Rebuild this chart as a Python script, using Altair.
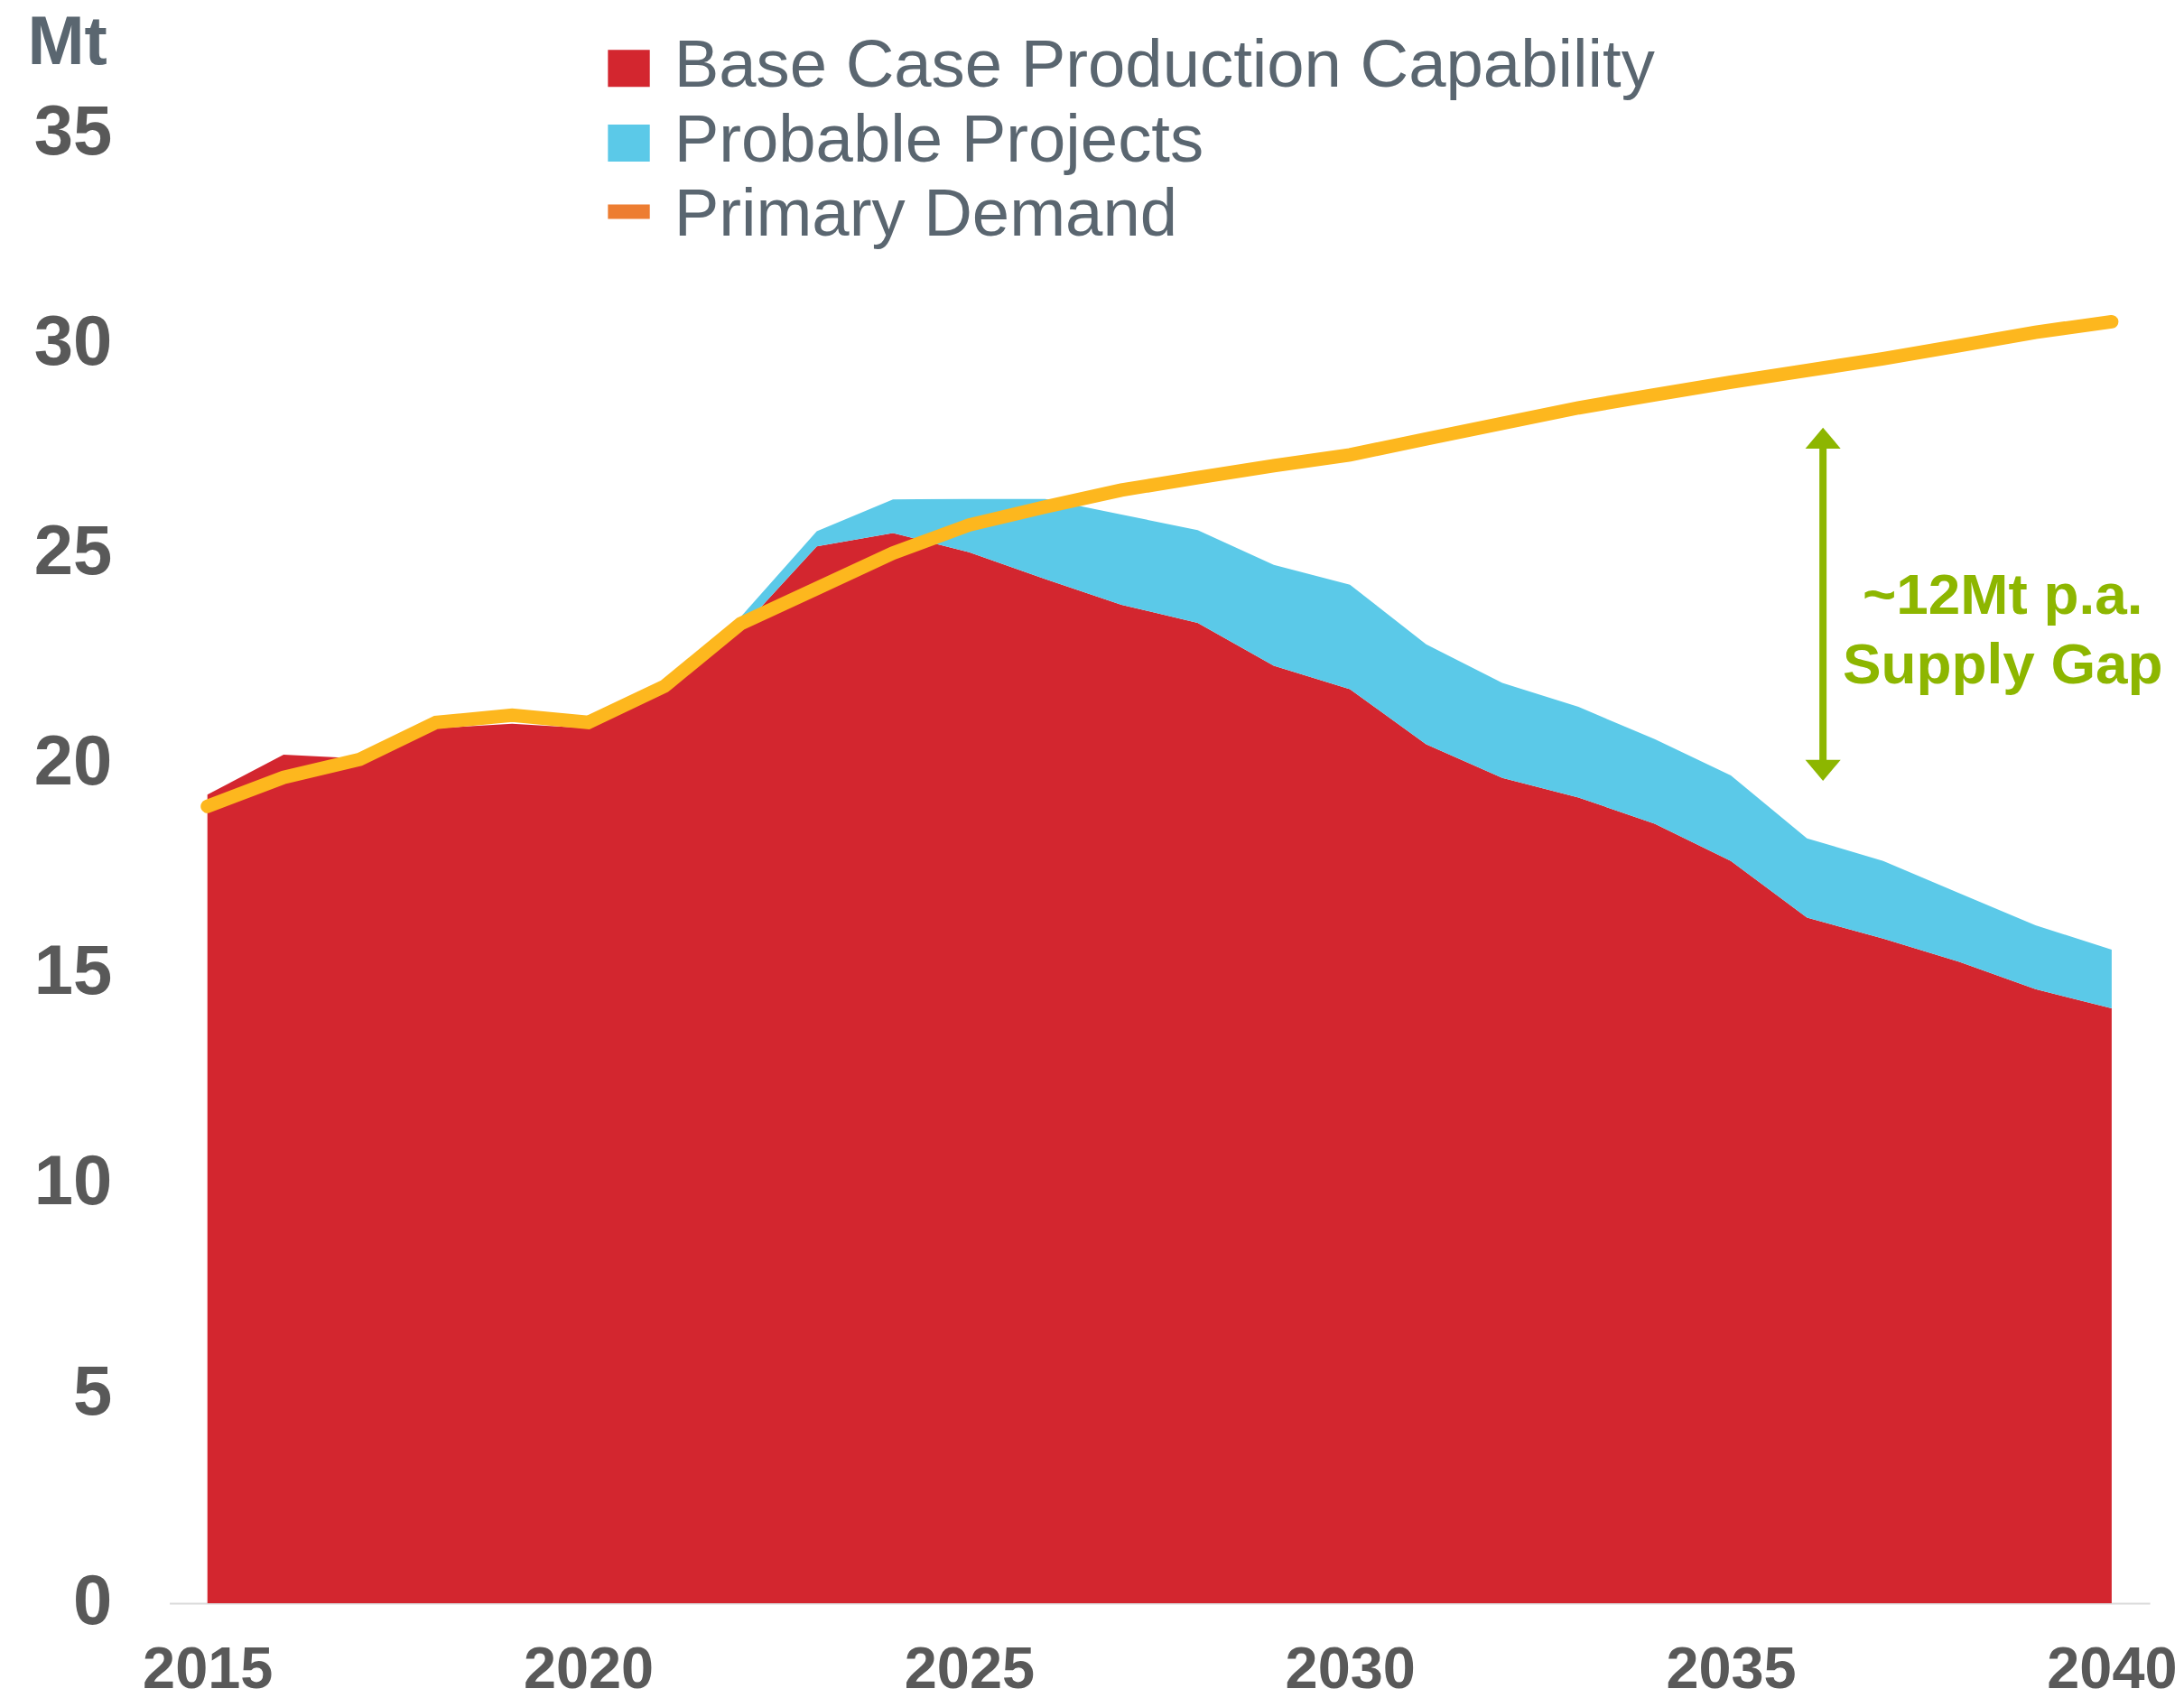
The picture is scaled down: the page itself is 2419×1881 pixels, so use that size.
import altair as alt
import pandas as pd

# ---------------- data ----------------
years = list(range(2015, 2041))
base_case = [19.25, 20.20, 20.11, 20.83, 20.94, 20.83, 21.68, 23.19, 25.16, 25.48,
             25.02, 24.38, 23.77, 23.34, 22.32, 21.76, 20.45, 19.65, 19.18, 18.56,
             17.67, 16.32, 15.82, 15.27, 14.62, 14.16]
probable = [0, 0, 0, 0, 0, 0, 0, 0.29, 0.36, 0.80,
            1.27, 1.91, 2.15, 2.21, 2.40, 2.49, 2.38, 2.26, 2.16, 2.01,
            2.04, 1.89, 1.85, 1.63, 1.52, 1.40]
demand = [18.97, 19.66, 20.09, 20.97, 21.14, 20.97, 21.83, 23.32, 24.16, 25.00,
          25.67, 26.10, 26.50, 26.80, 27.08, 27.34, 27.72, 28.09, 28.46, 28.77,
          29.07, 29.35, 29.63, 29.94, 30.26, 30.51]

series_names = ["Base Case Production Capability", "Probable Projects", "Primary Demand"]
series_colors = ["#D3262F", "#5BC9E8", "#ED7D31"]
legend_shapes = ["M-1,-0.81H1V0.96H-1Z", "M-1,-0.81H1V0.96H-1Z", "M-1,-0.56H1V0.13H-1Z"]

x_ticks = [2015, 2020, 2025, 2030, 2035, 2040]
y_ticks = [0, 5, 10, 15, 20, 25, 30, 35]

gap_year = [2036.21]
gap_arrow_tip_top = [27.99]
gap_arrow_tip_bottom = [19.58]
gap_shaft = [20.0, 27.55]
gap_text = ["~12Mt p.a.", "Supply Gap"]
gap_text_year = [2038.57, 2038.57]
gap_text_value = [23.56, 21.91]

# ---------------- styles ----------------
FONT = "Liberation Sans"
GOLD, GREEN = "#FDB71E", "#8DB600"
LABEL_GREY = "#595959"
SLATE = "#5A6670"

area_df = pd.DataFrame({
    "year": years * 2,
    "series": [series_names[0]] * len(years) + [series_names[1]] * len(years),
    "value": base_case + probable,
    "order": [0] * len(years) + [1] * len(years),
})
line_df = pd.DataFrame({"year": years, "value": demand})
legend_df = pd.DataFrame({"series": series_names})
shaft_df = pd.DataFrame({"year": gap_year, "value": [gap_shaft[0]], "value2": [gap_shaft[1]]})
head_top_df = pd.DataFrame({"year": gap_year, "value": gap_arrow_tip_top})
head_bot_df = pd.DataFrame({"year": gap_year, "value": gap_arrow_tip_bottom})
text_df = pd.DataFrame({"year": gap_text_year, "value": gap_text_value, "label": gap_text})

x_scale = alt.Scale(domain=[2014.5, 2040.5], nice=False, zero=False)
y_scale = alt.Scale(domain=[0, 35], nice=False, zero=True)

x_axis = alt.Axis(values=x_ticks, format="d", title=None, labelFontSize=65,
                  labelFontWeight="bold", labelColor=LABEL_GREY, labelFont=FONT,
                  labelPadding=43, ticks=False, tickSize=0, domainColor="#D9D9D9",
                  domainWidth=2, grid=False, labelFlush=False, labelOverlap=False)
y_axis = alt.Axis(values=y_ticks, format="d", title="Mt", titleAngle=0,
                  titleX=-158, titleY=-77, titleAlign="left", titleBaseline="alphabetic",
                  titleFontSize=76, titleFontWeight="bold", titleColor=SLATE, titleFont=FONT,
                  labelFontSize=78, labelFontWeight="bold", labelColor=LABEL_GREY,
                  labelFont=FONT, labelPadding=64, ticks=False, tickSize=0,
                  domain=False, grid=False, labelOverlap=False)

X = alt.X("year:Q", scale=x_scale, axis=x_axis)
Y = alt.Y("value:Q", scale=y_scale, axis=y_axis)

color_scale = alt.Scale(domain=series_names, range=series_colors)
shape_scale = alt.Scale(domain=series_names, range=legend_shapes)

legend_def = alt.Legend(
    title=None, orient="none", legendX=473, legendY=-111, direction="vertical",
    labelFontSize=74.5, labelColor=SLATE, labelFont=FONT, labelLimit=3000,
    labelOffset=13, symbolSize=2162, symbolStrokeWidth=0, symbolOpacity=1,
    rowPadding=8, padding=0,
)

areas = alt.Chart(area_df).mark_area(opacity=1, strokeWidth=0).encode(
    x=X,
    y=alt.Y("value:Q", scale=y_scale, axis=y_axis, stack="zero"),
    color=alt.Color("series:N", scale=color_scale, legend=legend_def),
    order=alt.Order("order:Q", sort="ascending"),
)

line = alt.Chart(line_df).mark_line(color=GOLD, strokeWidth=15, strokeCap="round").encode(
    x=X, y=Y
)

legend_layer = alt.Chart(legend_df).mark_point(filled=True, opacity=0).encode(
    color=alt.Color("series:N", scale=color_scale, legend=legend_def),
    shape=alt.Shape("series:N", scale=shape_scale, legend=legend_def),
)

shaft = alt.Chart(shaft_df).mark_rule(color=GREEN, strokeWidth=8).encode(
    x=X, y=Y, y2="value2:Q"
)
head_top = alt.Chart(head_top_df).mark_point(
    filled=True, color=GREEN, opacity=1, strokeWidth=0, size=1537,
    shape="M0,0L1,1.19L-1,1.19Z"
).encode(x=X, y=Y)
head_bot = alt.Chart(head_bot_df).mark_point(
    filled=True, color=GREEN, opacity=1, strokeWidth=0, size=1537,
    shape="M0,0L1,-1.19L-1,-1.19Z"
).encode(x=X, y=Y)

gap_label = alt.Chart(text_df).mark_text(
    font=FONT, fontSize=64, fontWeight="bold", color=GREEN,
    align="center", baseline="alphabetic"
).encode(x=X, y=Y, text="label:N")

chart = alt.layer(
    areas, line, shaft, head_top, head_bot, gap_label, legend_layer
).properties(
    width=2199, height=1632.5,
    autosize=alt.AutoSizeParams(type="none"),
    padding={"left": 180, "top": 137.5, "right": 30, "bottom": 103},
    background="white",
).configure(
    font=FONT,
    view=alt.ViewConfig(strokeWidth=0, stroke=None),
)

chart.save("out.html", embed_options={"renderer": "svg", "actions": False})
